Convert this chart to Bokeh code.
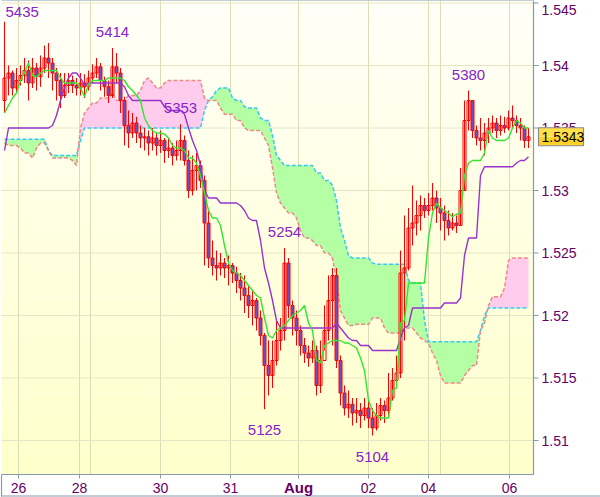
import numpy as np
from bokeh.plotting import figure
from bokeh.models import Range1d
from bokeh.core.properties import value
from bokeh.embed import file_html
from bokeh.resources import INLINE

# ---------------- data ----------------
first_open = 1.5372
close = [1.5390,1.5394,1.5382,1.5388,1.5392,1.5396,1.5386,1.5398,1.5391,1.5398,
         1.5406,1.5402,1.5394,1.5388,1.5376,1.5384,1.5388,1.5384,1.5382,1.5386,
         1.5383,1.5390,1.5394,1.5399,1.5388,1.5383,1.5376,1.5399,1.5394,1.5372,
         1.5352,1.5346,1.5354,1.5346,1.5342,1.5343,1.5338,1.5342,1.5336,1.5340,
         1.5332,1.5334,1.5328,1.5332,1.5340,1.5324,1.5300,1.5316,1.5320,1.5308,
         1.5274,1.5246,1.5240,1.5238,1.5242,1.5238,1.5240,1.5234,1.5228,1.5222,
         1.5216,1.5208,1.5212,1.5198,1.5184,1.5160,1.5152,1.5164,1.5180,1.5188,
         1.5242,1.5208,1.5198,1.5188,1.5176,1.5170,1.5166,1.5172,1.5144,1.5164,
         1.5188,1.5212,1.5232,1.5164,1.5138,1.5126,1.5129,1.5122,1.5124,1.5120,
         1.5126,1.5118,1.5110,1.5120,1.5128,1.5124,1.5134,1.5148,1.5154,1.5234,
         1.5238,1.5270,1.5274,1.5280,1.5288,1.5284,1.5288,1.5294,1.5286,1.5282,
         1.5276,1.5270,1.5274,1.5272,1.5300,1.5356,1.5372,1.5348,1.5342,1.5340,
         1.5346,1.5350,1.5354,1.5348,1.5352,1.5350,1.5358,1.5356,1.5352,1.5350,
         1.5340,1.5343]
high = [1.5435,1.5400,1.5396,1.5398,1.5400,1.5406,1.5404,1.5406,1.5402,1.5408,
        1.5416,1.5418,1.5406,1.5398,1.5394,1.5394,1.5394,1.5392,1.5390,1.5394,
        1.5393,1.5396,1.5401,1.5406,1.5402,1.5391,1.5388,1.5414,1.5410,1.5398,
        1.5375,1.5364,1.5362,1.5359,1.5352,1.5350,1.5348,1.5350,1.5346,1.5348,
        1.5342,1.5342,1.5338,1.5340,1.5353,1.5344,1.5332,1.5328,1.5330,1.5324,
        1.5312,1.5284,1.5260,1.5252,1.5250,1.5246,1.5248,1.5242,1.5239,1.5234,
        1.5232,1.5224,1.5220,1.5214,1.5204,1.5186,1.5180,1.5180,1.5196,1.5198,
        1.5254,1.5246,1.5212,1.5204,1.5192,1.5182,1.5176,1.5180,1.5176,1.5180,
        1.5208,1.5232,1.5238,1.5238,1.5168,1.5144,1.5140,1.5134,1.5134,1.5130,
        1.5134,1.5132,1.5126,1.5130,1.5134,1.5132,1.5154,1.5158,1.5168,1.5252,
        1.5280,1.5286,1.5304,1.5292,1.5296,1.5294,1.5298,1.5306,1.5300,1.5294,
        1.5288,1.5284,1.5282,1.5280,1.5318,1.5372,1.5380,1.5372,1.5352,1.5358,
        1.5354,1.5358,1.5360,1.5358,1.5360,1.5359,1.5364,1.5368,1.5360,1.5358,
        1.5352,1.5350]
low = [1.5362,1.5376,1.5376,1.5378,1.5384,1.5386,1.5372,1.5382,1.5380,1.5383,
       1.5394,1.5390,1.5380,1.5372,1.5366,1.5374,1.5378,1.5378,1.5376,1.5376,
       1.5374,1.5380,1.5386,1.5390,1.5380,1.5375,1.5370,1.5374,1.5386,1.5362,
       1.5336,1.5334,1.5342,1.5338,1.5334,1.5332,1.5328,1.5332,1.5328,1.5330,
       1.5322,1.5326,1.5320,1.5324,1.5324,1.5320,1.5294,1.5296,1.5300,1.5302,
       1.5240,1.5238,1.5232,1.5228,1.5232,1.5230,1.5224,1.5226,1.5218,1.5212,
       1.5202,1.5198,1.5192,1.5188,1.5176,1.5125,1.5136,1.5142,1.5160,1.5172,
       1.5180,1.5198,1.5184,1.5176,1.5168,1.5162,1.5159,1.5162,1.5136,1.5138,
       1.5172,1.5180,1.5176,1.5158,1.5128,1.5120,1.5118,1.5112,1.5114,1.5110,
       1.5116,1.5110,1.5104,1.5108,1.5116,1.5114,1.5118,1.5132,1.5142,1.5150,
       1.5180,1.5236,1.5256,1.5264,1.5268,1.5278,1.5280,1.5284,1.5274,1.5268,
       1.5260,1.5264,1.5268,1.5266,1.5272,1.5300,1.5348,1.5342,1.5336,1.5332,
       1.5328,1.5338,1.5346,1.5342,1.5344,1.5346,1.5348,1.5350,1.5346,1.5340,
       1.5334,1.5334]
tenkan = [1.5362,1.5368,1.5374,1.5378,1.5388,1.5394,1.5402,1.5392,1.5391,1.5394,
          1.5396,1.5396,1.5396,1.5396,1.5390,1.5386,1.5386,1.5386,1.5386,1.5382,
          1.5375,1.5385,1.5388,1.5388,1.5388,1.5388,1.5390,1.5390,1.5390,1.5390,
          1.5388,1.5383,1.5380,1.5376,1.5372,1.5358,1.5352,1.5348,1.5346,1.5346,
          1.5345,1.5342,1.5336,1.5334,1.5334,1.5332,1.5326,1.5326,1.5322,1.5312,
          1.5298,1.5284,1.5278,1.5278,1.5272,1.5256,1.5242,1.5236,1.5234,1.5232,
          1.5228,1.5224,1.5220,1.5216,1.5214,1.5198,1.5184,1.5182,1.5188,1.5190,
          1.5192,1.5196,1.5200,1.5202,1.5204,1.5208,1.5194,1.5188,1.5164,1.5162,
          1.5176,1.5178,1.5180,1.5180,1.5180,1.5178,1.5178,1.5176,1.5174,1.5166,
          1.5156,1.5132,1.5124,1.5120,1.5118,1.5118,1.5118,1.5140,1.5142,1.5194,
          1.5196,1.5226,1.5226,1.5226,1.5226,1.5226,1.5262,1.5282,1.5290,1.5286,
          1.5284,1.5282,1.5279,1.5281,1.5282,1.5312,1.5322,1.5324,1.5324,1.5324,
          1.5330,1.5348,1.5342,1.5340,1.5340,1.5340,1.5342,1.5350,1.5356,1.5354,
          1.5350,1.5350]
kijun = [1.5332,1.5350,1.5350,1.5350,1.5350,1.5350,1.5350,1.5350,1.5350,1.5350,
         1.5350,1.5350,1.5352,1.5360,1.5372,1.5382,1.5390,1.5394,1.5394,1.5390,
         1.5384,1.5386,1.5386,1.5386,1.5386,1.5386,1.5386,1.5386,1.5386,1.5386,
         1.5383,1.5376,1.5372,1.5372,1.5372,1.5372,1.5372,1.5372,1.5372,1.5372,
         1.5367,1.5364,1.5364,1.5364,1.5364,1.5361,1.5350,1.5340,1.5332,1.5320,
         1.5300,1.5294,1.5294,1.5294,1.5290,1.5290,1.5290,1.5290,1.5290,1.5288,
         1.5284,1.5278,1.5276,1.5276,1.5260,1.5238,1.5226,1.5212,1.5196,1.5190,
         1.5190,1.5190,1.5190,1.5190,1.5190,1.5190,1.5190,1.5190,1.5190,1.5190,
         1.5190,1.5190,1.5190,1.5194,1.5190,1.5186,1.5182,1.5180,1.5180,1.5176,
         1.5176,1.5176,1.5172,1.5172,1.5172,1.5172,1.5172,1.5172,1.5172,1.5182,
         1.5190,1.5192,1.5206,1.5206,1.5206,1.5206,1.5206,1.5206,1.5206,1.5206,
         1.5210,1.5210,1.5210,1.5210,1.5214,1.5248,1.5262,1.5262,1.5262,1.5312,
         1.5319,1.5319,1.5319,1.5319,1.5319,1.5319,1.5319,1.5319,1.5322,1.5324,
         1.5324,1.5327]
span_a = [1.5341,1.5341,1.5341,1.5341,1.5341,1.5341,1.5341,1.5341,1.5341,1.5341,
          1.5341,1.5332,1.5328,1.5328,1.5328,1.5328,1.5328,1.5328,1.5328,1.5340,
          1.5350,1.5350,1.5350,1.5350,1.5350,1.5350,1.5350,1.5350,1.5350,1.5350,
          1.5350,1.5350,1.5350,1.5350,1.5350,1.5350,1.5350,1.5350,1.5350,1.5350,
          1.5350,1.5350,1.5350,1.5350,1.5350,1.5350,1.5350,1.5350,1.5350,1.5350,
          1.5364,1.5372,1.5375,1.5380,1.5382,1.5382,1.5382,1.5374,1.5372,1.5372,
          1.5367,1.5366,1.5366,1.5366,1.5358,1.5356,1.5356,1.5344,1.5328,1.5324,
          1.5320,1.5320,1.5320,1.5320,1.5320,1.5320,1.5320,1.5320,1.5314,1.5314,
          1.5308,1.5308,1.5304,1.5292,1.5270,1.5260,1.5248,1.5246,1.5246,1.5246,
          1.5246,1.5246,1.5242,1.5241,1.5241,1.5241,1.5241,1.5241,1.5241,1.5241,
          1.5241,1.5228,1.5226,1.5226,1.5226,1.5196,1.5179,1.5179,1.5179,1.5179,
          1.5179,1.5179,1.5179,1.5179,1.5179,1.5179,1.5179,1.5179,1.5179,1.5188,
          1.5200,1.5206,1.5206,1.5206,1.5206,1.5206,1.5206,1.5206,1.5206,1.5206,
          1.5206,1.5206]
span_b = [1.5338,1.5336,1.5336,1.5336,1.5334,1.5330,1.5330,1.5326,1.5334,1.5338,
          1.5338,1.5332,1.5326,1.5326,1.5326,1.5326,1.5326,1.5324,1.5320,1.5350,
          1.5362,1.5366,1.5370,1.5370,1.5374,1.5374,1.5374,1.5378,1.5372,1.5372,
          1.5372,1.5376,1.5376,1.5376,1.5380,1.5388,1.5390,1.5386,1.5382,1.5382,
          1.5386,1.5388,1.5388,1.5388,1.5388,1.5388,1.5388,1.5388,1.5388,1.5388,
          1.5374,1.5372,1.5372,1.5372,1.5366,1.5361,1.5361,1.5361,1.5356,1.5356,
          1.5350,1.5348,1.5348,1.5348,1.5348,1.5342,1.5336,1.5318,1.5298,1.5290,
          1.5286,1.5282,1.5282,1.5278,1.5268,1.5262,1.5262,1.5260,1.5256,1.5256,
          1.5250,1.5250,1.5246,1.5228,1.5204,1.5198,1.5192,1.5192,1.5193,1.5193,
          1.5193,1.5193,1.5198,1.5198,1.5198,1.5190,1.5186,1.5186,1.5186,1.5186,
          1.5190,1.5190,1.5190,1.5186,1.5182,1.5180,1.5178,1.5170,1.5164,1.5152,
          1.5146,1.5146,1.5146,1.5146,1.5146,1.5152,1.5156,1.5160,1.5160,1.5188,
          1.5194,1.5208,1.5215,1.5215,1.5215,1.5222,1.5244,1.5246,1.5246,1.5246,
          1.5246,1.5246]
day_ticks = [3.5, 18.75, 39, 56.5, 73.5, 91, 106, 126.25]
day_labels = ["26", "28", "30", "31", "Aug", "02", "04", "06"]
extra_grid = [21.5, 109]
price_ticks = [1.51, 1.515, 1.52, 1.525, 1.53, 1.535, 1.54, 1.545]
price_labels = ["1.51", "1.515", "1.52", "1.525", "1.53", "1.535", "1.54", "1.545"]
extreme_idx = [0, 27, 44, 70, 65, 92, 116]
extreme_kind = ["high", "high", "high", "high", "low", "low", "high"]

N = len(close)
for arr in (high, low, tenkan, kijun, span_a, span_b):
    assert len(arr) == N, len(arr)

# ---------------- layout & styling ----------------
FONT = "Liberation Sans"
AXIS_GRAY = "#8899aa"
LABEL_COL = "#660066"
W, H = 600, 497
XL, XR = -1.0, N + 17.0          # full canvas in index units
YB, YT = 1.50544, 1.5452         # full canvas in price units
PXX = (XR - XL) / W              # index units per pixel
PXY = (YT - YB) / H              # price units per pixel
cx0, cx1 = XL + 1 * PXX, XL + 533 * PXX     # chart area left / right
cy0, cy1 = YT - 474 * PXY, YT               # chart area bottom / top

p = figure(width=W, height=H, x_range=Range1d(XL, XR), y_range=Range1d(YB, YT),
           x_axis_type=None, y_axis_type=None, output_backend="svg",
           toolbar_location=None, min_border=0)
p.background_fill_color = "white"
p.border_fill_color = "white"
p.outline_line_color = None

# gradient background of chart area
nb = 24
edges = np.linspace(cy0, cy1, nb + 1)
cols = ["#ffff%02x" % int(round(202 + (248 - 202) * (k + 0.5) / nb)) for k in range(nb)]
p.quad(left=cx0, right=cx1, bottom=edges[:-1], top=edges[1:], fill_color=cols, line_color=None)

# grid
gx = sorted(day_ticks + extra_grid)
p.segment(x0=gx, y0=cy0, x1=gx, y1=cy1, line_color="#dcdcb6", line_width=1)
p.segment(x0=cx0, y0=price_ticks, x1=cx1, y1=price_ticks, line_color="#e6e6c4", line_width=1)

x = np.arange(N)
A = np.array(span_a)
B = np.array(span_b)
top_ab = np.maximum(A, B)

# cloud
p.varea(x=x, y1=B, y2=top_ab, fill_color="#b4ffa4")
p.varea(x=x, y1=A, y2=top_ab, fill_color="#ffccee")
p.line(x, A, line_color="#33ccee", line_dash="4 2", line_width=1.5)
p.line(x, B, line_color="#f08888", line_dash="4 2", line_width=1.5)

# candles
c = np.array(close)
o = np.array([first_open] + close[:-1])
h = np.array(high)
l = np.array(low)
btop = np.maximum(o, c)
bbot = np.minimum(o, c)
up = c >= o
p.segment(x0=x, y0=l, x1=x, y1=h, line_color="#ff0000", line_width=1)
p.vbar(x=x[up], top=btop[up], bottom=bbot[up], width=0.75,
       fill_color=None, line_color="#ff0000", line_width=1)
p.vbar(x=x[~up], top=btop[~up], bottom=bbot[~up], width=0.75,
       fill_color="#6f4fc0", line_color="#ff0000", line_width=1)

# indicator lines
p.line(x, kijun, line_color="#9933cc", line_width=1.4)
p.line(x, tenkan, line_color="#2ee82e", line_width=1.4)

# extreme labels (text centres placed above highs / below lows)
ex_x, ex_y, ex_t, ex_al = [], [], [], []
for idx, kind in zip(extreme_idx, extreme_kind):
    val = high[idx] if kind == "high" else low[idx]
    ex_t.append(str(int(round(val * 10000)) % 10000))
    if kind == "high":
        ex_y.append(min(val + 16 * PXY, cy1 - 11 * PXY))
    else:
        ex_y.append(val - 21 * PXY)
    if idx == 0:
        ex_x.append(idx + 1 * PXX)
        ex_al.append("left")
    else:
        ex_x.append(idx)
        ex_al.append("center")
p.text(x=ex_x, y=ex_y, text=ex_t, text_align=ex_al, text_baseline="middle",
       text_font=value(FONT), text_font_size="15px", text_color="#8822cc")

# frame / axis lines
p.segment(x0=[cx0, cx0, cx1, cx0, XL + 0.5 * PXX],
          y0=[cy0, cy1, cy0, cy0, YT - 495.5 * PXY],
          x1=[cx0, cx1, cx1, cx1, XR],
          y1=[YT - 496 * PXY, cy1, cy1, cy0, YT - 495.5 * PXY],
          line_color=AXIS_GRAY, line_width=1.2)

# y axis ticks and labels
p.segment(x0=cx1, y0=price_ticks, x1=cx1 + 5 * PXX, y1=price_ticks,
          line_color=AXIS_GRAY, line_width=1)
ylab_y = [min(t, cy1 - 9 * PXY) for t in price_ticks]
p.text(x=cx1 + 8 * PXX, y=ylab_y, text=price_labels, text_align="left",
       text_baseline="middle", text_font=value(FONT), text_font_size="14px",
       text_color=LABEL_COL)

# x axis ticks and labels
p.segment(x0=day_ticks, y0=cy0, x1=day_ticks, y1=cy0 - 4 * PXY,
          line_color=AXIS_GRAY, line_width=1)
normal = [i for i, s in enumerate(day_labels) if s != "Aug"]
bold = [i for i, s in enumerate(day_labels) if s == "Aug"]
p.text(x=[day_ticks[i] for i in normal], y=cy0 - 13 * PXY,
       text=[day_labels[i] for i in normal], text_align="center",
       text_baseline="middle", text_font=value(FONT), text_font_size="14px",
       text_color=LABEL_COL)
p.text(x=[day_ticks[i] for i in bold], y=cy0 - 13 * PXY,
       text=[day_labels[i] for i in bold], text_align="center",
       text_baseline="middle", text_font=value(FONT), text_font_size="15px",
       text_font_style="bold", text_color=LABEL_COL)

# last price tag
last = close[-1]
p.quad(left=cx1 + 5 * PXX, right=cx1 + 50 * PXX, bottom=last - 9 * PXY, top=last,
       fill_color="#fcd12a", line_color=None)
p.quad(left=cx1 + 5 * PXX, right=cx1 + 50 * PXX, bottom=last, top=last + 9 * PXY,
       fill_color="#ffe04a", line_color=None)
p.quad(left=cx1 + 5 * PXX, right=cx1 + 50 * PXX, bottom=last - 9 * PXY, top=last + 9 * PXY,
       fill_color=None, line_color="#8a8a8a", line_width=1.2)
p.text(x=cx1 + 8 * PXX, y=last, text=["%.4f" % last], text_align="left",
       text_baseline="middle", text_font=value(FONT), text_font_size="14px",
       text_color="black")

open("out.html", "w").write(file_html(p, INLINE))
